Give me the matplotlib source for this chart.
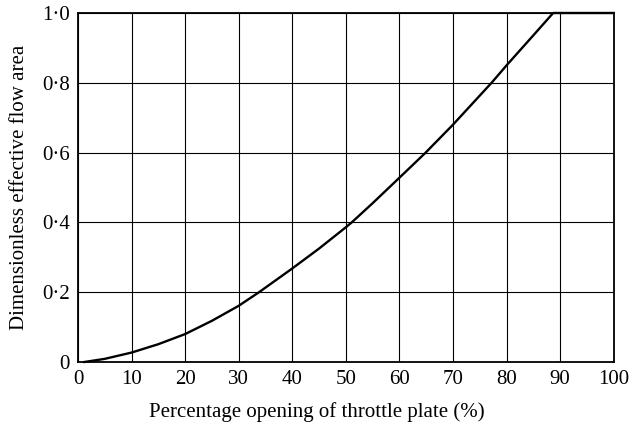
import matplotlib
matplotlib.use('Agg')
import matplotlib.pyplot as plt

# curve
opening = [1.2, 5, 10, 15, 20, 25, 30, 33.8, 40, 45, 50, 51.1, 55, 60, 64.9, 70, 77.2, 80, 85, 88.7, 100]
area    = [0.0, 0.009, 0.027, 0.051, 0.08, 0.118, 0.161, 0.2, 0.268, 0.325, 0.386, 0.4, 0.455,
           0.528, 0.6, 0.68, 0.8, 0.85, 0.936, 1.0, 1.0]

x_ticks = list(range(0, 101, 10))
y_ticks = [0, 0.2, 0.4, 0.6, 0.8, 1.0]
y_labels = ['0', '0\u00b72', '0\u00b74', '0\u00b76', '0\u00b78', '1\u00b70']

plt.rcParams['font.family'] = ['Liberation Serif', 'DejaVu Serif']

fig = plt.figure(figsize=(6.34, 4.33), dpi=100)
ax = fig.add_axes([0.123, 0.164, 0.845, 0.806])

ax.plot(opening, area, color='black', lw=1.7, clip_on=False, zorder=3,
        solid_joinstyle='round')

ax.set_xlim(0, 100)
ax.set_ylim(0, 1.0)
ax.set_xticks(x_ticks)
ax.set_yticks(y_ticks)
ax.set_yticklabels(y_labels)
ax.tick_params(length=0, labelsize=15, pad=6, colors='black')
ax.grid(True, color='black', lw=0.8)
for s in ax.spines.values():
    s.set_linewidth(1.3)

ax.set_xlabel('Percentage opening of throttle plate (%)', fontsize=15, labelpad=9)
ax.xaxis.label.set_x(0.446)   # label sits centred on the page, not on the axes
ax.set_ylabel('Dimensionless effective flow area', fontsize=15, labelpad=9)

fig.savefig('out.png', dpi=100, facecolor='white')
